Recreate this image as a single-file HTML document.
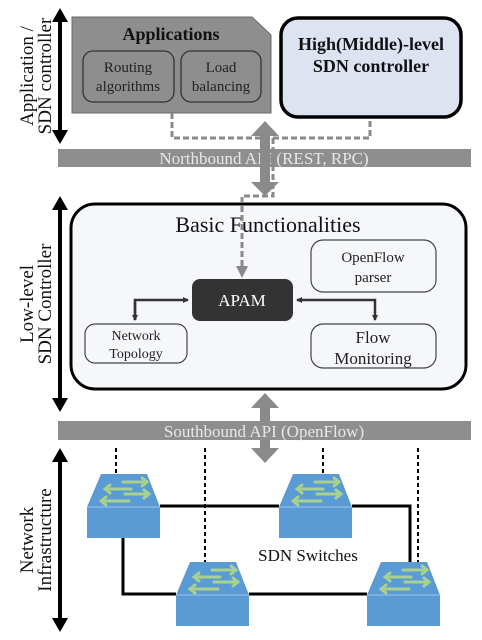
<!DOCTYPE html>
<html><head><meta charset="utf-8"><style>
html,body{margin:0;padding:0;background:#fff;}
svg{display:block;font-family:"Liberation Serif",serif;}
</style></head><body>
<svg width="482" height="640" viewBox="0 0 482 640" xmlns="http://www.w3.org/2000/svg">
<defs>
<marker id="bk" markerWidth="6" markerHeight="6" refX="5" refY="3" orient="auto" markerUnits="userSpaceOnUse"><path d="M0,0 L6,3 L0,6 z" fill="#333"/></marker>
<g id="sw">
<polygon points="14,0 60,0 73,33 0,33" fill="#5b9bd5"/>
<rect x="0" y="33" width="73" height="31" fill="#5b9bd5"/>
<line x1="0" y1="33" x2="73" y2="33" stroke="#9cc3e8" stroke-width="1"/>
<g stroke="#a9d18e" stroke-width="3" fill="none" stroke-linecap="round">
<path d="M36,8 H60 M55,4 L60,8 L55,12"/>
<path d="M44,15 H18 M23,11 L18,15 L23,19"/>
<path d="M38,20 H62 M57,16 L62,20 L57,24"/>
<path d="M42,27 H14 M19,23 L14,27 L19,31"/>
</g>
</g>
</defs>

<g fill="#000">
<rect x="58" y="20" width="4" height="112"/><polygon points="52,22 60,8 68,22"/><polygon points="52,130 60,144 68,130"/>
<rect x="58" y="208" width="4" height="192"/><polygon points="52,210 60,196 68,210"/><polygon points="52,398 60,412 68,398"/>
<rect x="58" y="460" width="4" height="160"/><polygon points="52,462 60,448 68,462"/><polygon points="52,618 60,632 68,618"/>
</g>
<g font-size="19" fill="#111" text-anchor="middle">
<text transform="translate(33,76) rotate(-90)">Application /</text>
<text transform="translate(51,76) rotate(-90)">SDN controller</text>
<text transform="translate(33,304) rotate(-90)">Low-level</text>
<text transform="translate(51,304) rotate(-90)">SDN Controller</text>
<text transform="translate(33,540) rotate(-90)">Network</text>
<text transform="translate(51,540) rotate(-90)">Infrastructure</text>
</g>

<polygon points="72,17 252,17 271,35 271,113 72,113" fill="#8e8e8e" stroke="#6a6a6a" stroke-width="1"/>
<text x="171" y="40" font-size="18" font-weight="bold" text-anchor="middle" fill="#111">Applications</text>
<rect x="83" y="51" width="91" height="51" rx="10" fill="none" stroke="#333" stroke-width="1.3"/>
<rect x="181" y="51" width="80" height="51" rx="10" fill="none" stroke="#333" stroke-width="1.3"/>
<g font-size="15" text-anchor="middle" fill="#222">
<text x="128" y="72">Routing</text><text x="128" y="91">algorithms</text>
<text x="221" y="72">Load</text><text x="221" y="91">balancing</text>
</g>

<rect x="281" y="18" width="180" height="99" rx="17" fill="#dde3f1" stroke="#000" stroke-width="3.5"/>
<text x="371" y="50" font-size="18" font-weight="bold" text-anchor="middle" fill="#111">High(Middle)-level</text>
<text x="371" y="72" font-size="18" font-weight="bold" text-anchor="middle" fill="#111">SDN controller</text>

<rect x="58" y="149" width="413" height="18" fill="#8e8e8e"/>
<text x="264" y="164" font-size="17" text-anchor="middle" fill="#e8e8e8">Northbound API (REST, RPC)</text>

<g fill="#8a8a8a">
<rect x="260" y="134" width="10" height="50"/><polygon points="251,136 265,121 279,136"/><polygon points="251,182 265,196 279,182"/>
<rect x="260" y="406" width="10" height="44"/><polygon points="251,408 265,393 279,408"/><polygon points="251,448 265,463 279,448"/>
</g>

<rect x="71" y="204" width="395" height="185" rx="24" fill="#f6f7fb" stroke="#000" stroke-width="3"/>
<text x="268" y="232" font-size="22" text-anchor="middle" fill="#111">Basic Functionalities</text>

<g stroke="#8a8a8a" stroke-width="3" fill="none" stroke-dasharray="6,3">
<path d="M172,113 V138 H370 V118"/>
<path d="M273,138 V196 H242 V268"/>
</g>
<polygon points="236,266 242,278 248,266" fill="#8a8a8a"/>

<rect x="192" y="279" width="101" height="42" rx="8" fill="#333"/>
<text x="242" y="306" font-size="17" text-anchor="middle" fill="#fff">APAM</text>
<rect x="311" y="240" width="125" height="52" rx="12" fill="none" stroke="#444" stroke-width="1.2"/>
<text x="373" y="262" font-size="15" text-anchor="middle" fill="#222">OpenFlow</text>
<text x="373" y="282" font-size="15" text-anchor="middle" fill="#222">parser</text>
<rect x="85" y="324" width="102" height="39" rx="10" fill="none" stroke="#444" stroke-width="1.2"/>
<text x="136" y="340" font-size="14" text-anchor="middle" fill="#222">Network</text>
<text x="136" y="358" font-size="14" text-anchor="middle" fill="#222">Topology</text>
<rect x="311" y="324" width="125" height="44" rx="12" fill="none" stroke="#444" stroke-width="1.2"/>
<text x="373" y="343" font-size="17" text-anchor="middle" fill="#222">Flow</text>
<text x="373" y="364" font-size="17" text-anchor="middle" fill="#222">Monitoring</text>
<g stroke="#333" stroke-width="2.5" fill="none">
<path d="M135,320 V300 H188" marker-end="url(#bk)"/>
<path d="M135,302 V320" marker-end="url(#bk)"/>
<path d="M375,302 V320" marker-end="url(#bk)"/>
<path d="M375,302 V300 H297" marker-end="url(#bk)"/>
</g>

<rect x="58" y="421" width="413" height="19" fill="#8e8e8e"/>
<text x="264" y="437" font-size="17" text-anchor="middle" fill="#e8e8e8">Southbound API (OpenFlow)</text>
<rect x="260" y="440" width="10" height="10" fill="#8a8a8a"/>

<g stroke="#000" stroke-width="3" fill="none">
<path d="M160,506 H279"/>
<path d="M352,506 H410 V566"/>
<path d="M123,537 V594 H176"/>
<path d="M249,594 H367"/>
</g>
<g stroke="#000" stroke-width="2" stroke-dasharray="4,3">
<line x1="116" y1="448" x2="116" y2="474"/>
<line x1="205" y1="448" x2="205" y2="566"/>
<line x1="323" y1="448" x2="323" y2="474"/>
<line x1="418" y1="448" x2="418" y2="566"/>
</g>
<use href="#sw" x="87" y="474"/>
<use href="#sw" x="279" y="474"/>
<use href="#sw" x="176" y="562"/>
<use href="#sw" x="367" y="562"/>
<text x="308" y="561" font-size="17" text-anchor="middle" fill="#111">SDN Switches</text>
</svg>
</body></html>
